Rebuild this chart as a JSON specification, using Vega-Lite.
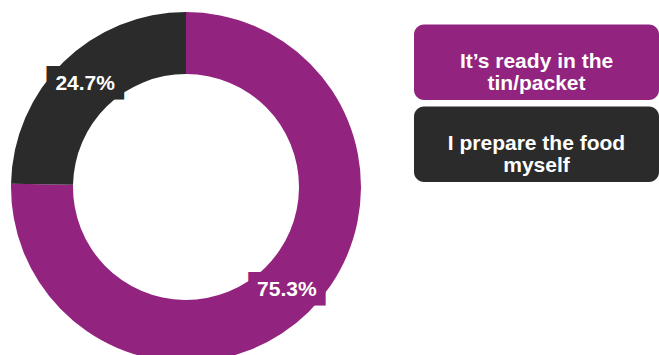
{
  "$schema": "https://vega.github.io/schema/vega-lite/v6.json",
  "padding": 0,
  "spacing": 42,
  "config": {"view": {"stroke": null}, "font": "Liberation Sans"},
  "datasets": {
    "food": [
      {"category": "It’s ready in the tin/packet", "legend": "It’s ready in the\ntin/packet", "value": 75.3, "label": "75.3%"},
      {"category": "I prepare the food myself", "legend": "I prepare the food\nmyself", "value": 24.7, "label": "24.7%"}
    ]
  },
  "hconcat": [
    {
      "width": 372,
      "height": 374,
      "data": {"name": "food"},
      "encoding": {
        "theta": {"field": "value", "type": "quantitative", "stack": true},
        "order": {"field": "value", "type": "quantitative", "sort": "descending"},
        "detail": {"field": "category"}
      },
      "layer": [
        {
          "mark": {"type": "arc", "innerRadius": 113, "outerRadius": 175},
          "encoding": {
            "color": {"field": "category", "type": "nominal", "legend": null,
              "scale": {"domain": ["It’s ready in the tin/packet", "I prepare the food myself"], "range": ["#92237E", "#2B2B2B"]}}
          }
        },
        {
          "mark": {"type": "text", "radius": 144, "font": "DejaVu Sans Mono", "fontSize": 23.8, "strokeWidth": 5.3, "strokeJoin": "miter", "align": "center", "baseline": "middle", "text": "█████"},
          "encoding": {
            "color": {"field": "category", "type": "nominal", "legend": null,
              "scale": {"domain": ["It’s ready in the tin/packet", "I prepare the food myself"], "range": ["#92237E", "#2B2B2B"]}},
            "stroke": {"field": "category", "type": "nominal", "legend": null,
              "scale": {"domain": ["It’s ready in the tin/packet", "I prepare the food myself"], "range": ["#92237E", "#2B2B2B"]}}
          }
        },
        {
          "mark": {"type": "text", "radius": 144, "fontSize": 21, "fontWeight": "bold", "color": "white", "align": "center", "baseline": "middle"},
          "encoding": {
            "text": {"field": "label", "type": "nominal"}
          }
        }
      ]
    },
    {
      "width": 245,
      "height": 182,
      "data": {"name": "food"},
      "encoding": {
        "y": {"field": "category", "type": "nominal", "axis": null,
          "sort": ["It’s ready in the tin/packet", "I prepare the food myself"],
          "scale": {"paddingInner": 0.08, "paddingOuter": 0.15, "align": 1}}
      },
      "layer": [
        {
          "mark": {"type": "rect", "cornerRadius": 10},
          "encoding": {
            "color": {"field": "category", "type": "nominal", "legend": null,
              "scale": {"domain": ["It’s ready in the tin/packet", "I prepare the food myself"], "range": ["#92237E", "#2B2B2B"]}}
          }
        },
        {
          "mark": {"type": "text", "fontSize": 21, "fontWeight": "bold", "color": "white", "lineBreak": "\n", "lineHeight": 21.5, "align": "center", "baseline": "middle"},
          "encoding": {
            "text": {"field": "legend", "type": "nominal"}
          }
        }
      ]
    }
  ]
}
